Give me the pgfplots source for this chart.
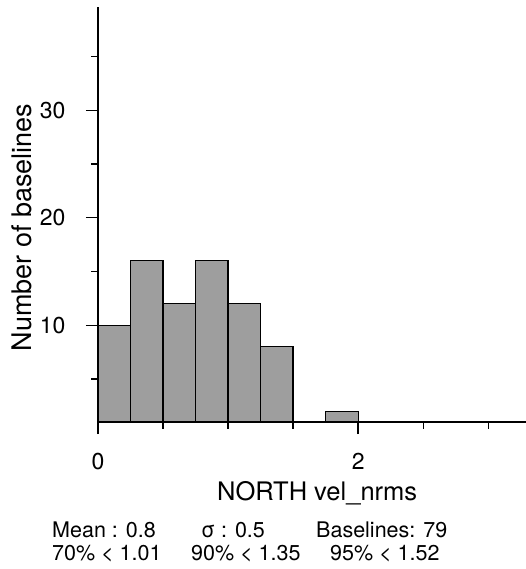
\documentclass[border=0pt]{standalone}
\usepackage{fontspec}
\setmainfont{TeX Gyre Heros}
\usepackage{pgfplots}
\pgfplotsset{compat=1.18}
\definecolor{barfill}{HTML}{9E9E9E}

\begin{document}
\begin{tikzpicture}
\useasboundingbox (0,0) rectangle (526pt,-569pt);
\begin{axis}[
  at={(98pt,-422pt)}, anchor=south west,
  scale only axis, width=428pt, height=415pt,
  xmin=0, xmax=3.29, ymin=1, ymax=39.6,
  axis x line=bottom, axis y line=left,
  axis line style={-, line width=2.4pt},
  axis on top,
  tick align=outside,
  xtick={0,2}, minor xtick={0.5,1,1.5,2.5,3},
  ytick={10,20,30}, minor ytick={5,15,25,35},
  major tick length=12pt, minor tick length=6.5pt,
  every tick/.style={black, line width=1.4pt},
  tick label style={font=\fontsize{23}{26}\selectfont},
  yticklabel style={xshift=-17pt},
  xticklabel style={yshift=-16pt},
  /pgf/number format/assume math mode=true,
  xlabel={NORTH vel\_nrms},
  ylabel={Number of baselines},
  x label style={at={(axis description cs:0.512,-0.1892)}, anchor=base,
    font=\fontsize{25.5}{28}\selectfont},
  y label style={at={(axis description cs:-0.1776,0.469)}, anchor=center,
    font=\fontsize{27}{30}\selectfont},
]
\addplot[ybar interval, fill=barfill, draw=black, line width=1.3pt] coordinates {
  (0,10)(0.25,16)(0.5,12)(0.75,16)(1.0,12)(1.25,8)(1.5,0)(1.75,2)(2.0,0)};
\end{axis}
\begin{scope}[every node/.style={anchor=base west, inner sep=0pt, font=\fontsize{21.5}{24}\selectfont}]
\node at (52pt,-537pt) {Mean : 0.8};
\node at (201pt,-537pt) {σ : 0.5};
\node at (316pt,-537pt) {Baselines: 79};
\node at (52pt,-560pt) {70\% < 1.01};
\node at (191pt,-560pt) {90\% < 1.35};
\node at (330pt,-560pt) {95\% < 1.52};
\end{scope}
\end{tikzpicture}
\end{document}
